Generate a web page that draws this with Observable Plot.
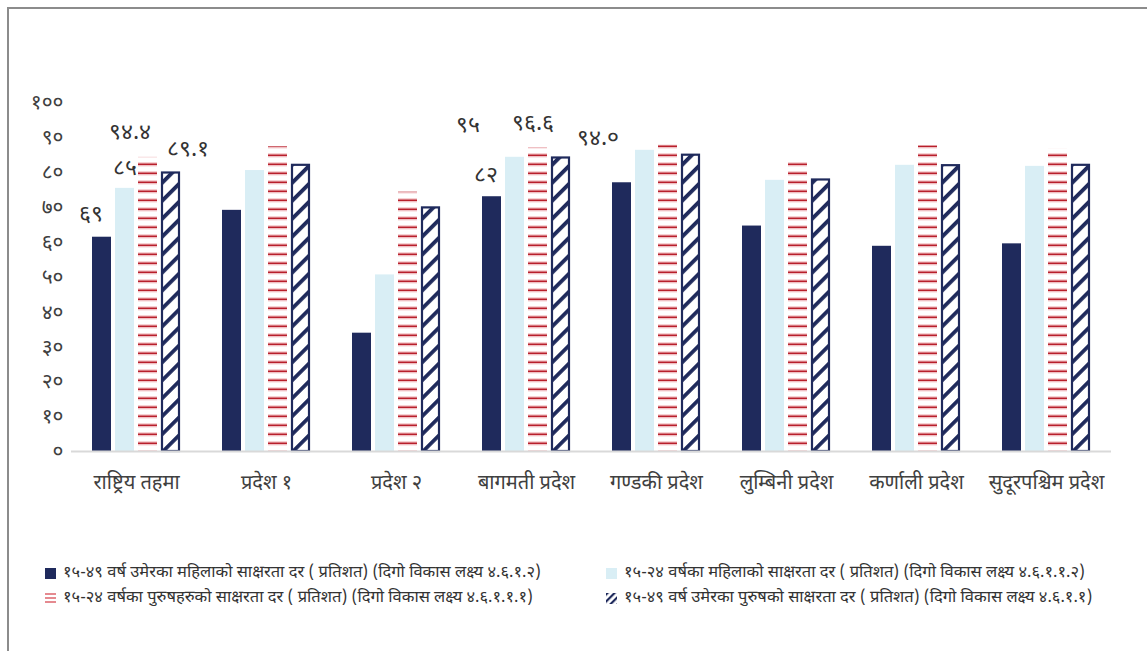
<!DOCTYPE html>
<html>
<head>
<meta charset="utf-8">
<script src="https://cdn.jsdelivr.net/npm/d3@7"></script>
<script src="https://cdn.jsdelivr.net/npm/@observablehq/plot@0.6"></script>
<style>
  html, body { margin: 0; padding: 0; background: #fff; }
  #wrap { position: relative; width: 1147px; height: 651px; overflow: hidden;
          font-family: "Noto Sans Devanagari", "Noto Sans", sans-serif; color: #333; }
  #frame { position: absolute; left: 7px; top: 7px; right: -10px; bottom: -10px;
           border-top: 2px solid #8c8c8c; border-left: 2px solid #8c8c8c; }
  #chart { position: absolute; left: 0; top: 0; }
  .lg { position: absolute; display: flex; align-items: center; font-size: 16.5px; white-space: nowrap; }
  .lg svg { margin-right: 7px; }
</style>
</head>
<body>
<div id="wrap">
  <div id="frame"></div>
  <div id="chart"></div>
  <div id="legend"></div>
</div>
<script>
// ---------- data ----------
const categories = ["राष्ट्रिय तहमा", "प्रदेश १", "प्रदेश २", "बागमती प्रदेश", "गण्डकी प्रदेश", "लुम्बिनी प्रदेश", "कर्णाली प्रदेश", "सुदूरपश्चिम प्रदेश"];
const seriesKeys = ["w1549", "w1524", "m1524", "m1549"];
const seriesNames = [
  "१५-४९ वर्ष उमेरका महिलाको साक्षरता दर ( प्रतिशत) (दिगो विकास लक्ष्य ४.६.१.२)",
  "१५-२४ वर्षका महिलाको साक्षरता दर ( प्रतिशत) (दिगो विकास लक्ष्य ४.६.१.१.२)",
  "१५-२४ वर्षका पुरुषहरुको साक्षरता दर ( प्रतिशत) (दिगो विकास लक्ष्य ४.६.१.१.१)",
  "१५-४९ वर्ष उमेरका पुरुषको साक्षरता दर ( प्रतिशत) (दिगो विकास लक्ष्य ४.६.१.१)"
];
const women1549 = [61.4, 69.1, 33.9, 73.0, 77.0, 64.6, 58.8, 59.5];
const women1524 = [75.4, 80.5, 50.6, 84.3, 86.3, 77.7, 82.0, 81.7];
const men1524   = [84.3, 87.3, 74.3, 87.1, 87.8, 83.6, 87.6, 86.6];
const men1549   = [79.8, 82.0, 69.8, 84.1, 84.9, 77.8, 81.9, 82.0];
const seriesValues = [women1549, women1524, men1524, men1549];

const tickValues = [0, 10, 20, 30, 40, 50, 60, 70, 80, 90, 100];
const tickLabels = ["०", "१०", "२०", "३०", "४०", "५०", "६०", "७०", "८०", "९०", "१००"];

// data labels shown on the chart
const labelCategory = ["राष्ट्रिय तहमा", "राष्ट्रिय तहमा", "राष्ट्रिय तहमा", "राष्ट्रिय तहमा", "बागमती प्रदेश", "बागमती प्रदेश", "बागमती प्रदेश", "बागमती प्रदेश"];
const labelSeries = ["w1549", "w1524", "m1524", "m1549", "w1549", "w1524", "m1524", "m1549"];
const labelText = ["६९", "८५", "९४.४", "८९.१", "८२", "९५", "९६.६", "९४.०"];

// ---------- build table ----------
const rows = categories.flatMap((c, i) => seriesKeys.map((s, j) => ({category: c, series: s, value: seriesValues[j][i]})));
const labels = labelText.map((t, k) => {
  const ci = categories.indexOf(labelCategory[k]);
  const si = seriesKeys.indexOf(labelSeries[k]);
  return {category: labelCategory[k], series: labelSeries[k], value: seriesValues[si][ci], text: t};
});

// ---------- styles ----------
const NAVY = "#1f2a5c";
const LIGHT = "#d9eef5";
const fills = {w1549: NAVY, w1524: LIGHT, m1524: "url(#redStripes)", m1549: "url(#navyHatch)"};
// label nudges (pixels), same order as labels
const nudge = [[-11, -24], [0, -21], [-18, -26], [17, -24], [-6, -22], [-47, -33], [-5, -25], [37, -20]];

const barMarks = seriesKeys.map(k => Plot.barY(rows.filter(d => d.series === k), {
  fx: "category", x: "series", y: "value",
  fill: fills[k],
  stroke: k === "m1549" ? NAVY : "none",
  strokeWidth: k === "m1549" ? 2.2 : 0,
  insetLeft: k === "m1549" ? 1 : 0, insetRight: k === "m1549" ? 1 : 0
}));

const labelMarks = labels.map((l, k) => Plot.text([l], {
  fx: "category", x: "series", y: "value", text: "text",
  dx: nudge[k][0], dy: nudge[k][1], fontSize: 23, fill: "#333"
}));

const chart = Plot.plot({
  width: 1147, height: 520,
  marginTop: 102, marginBottom: 69, marginLeft: 70, marginRight: 35,
  style: {fontFamily: '"Noto Sans Devanagari", "Noto Sans", sans-serif', background: "transparent", color: "#404040", overflow: "visible"},
  fx: {domain: categories, padding: 0, label: null},
  x: {domain: seriesKeys, paddingInner: 0.19, paddingOuter: 0.87, axis: null},
  y: {domain: [0, 100], axis: null},
  marks: [
    Plot.axisY({ticks: tickValues, tickFormat: d => tickLabels[tickValues.indexOf(d)], tickSize: 0, tickPadding: 8, fontSize: 21, label: null}),
    Plot.axisFx({anchor: "bottom", tickSize: 0, tickPadding: 23, fontSize: 20, label: null}),
    ...barMarks,
    Plot.ruleY([0], {stroke: "#d9d9d9", strokeWidth: 2}),
    ...labelMarks
  ]
});

// patterns
const defs = d3.select(chart).insert("defs", ":first-child");
const rp = defs.append("pattern").attr("id", "redStripes").attr("patternUnits", "userSpaceOnUse").attr("width", 20).attr("height", 9);
rp.append("rect").attr("width", 20).attr("height", 9).attr("fill", "#fff");
rp.append("rect").attr("y", 0).attr("width", 20).attr("height", 4.5).attr("fill", "#f6d2d4");
rp.append("rect").attr("y", 1.5).attr("width", 20).attr("height", 1.6).attr("fill", "#b81f2b");
const hp = defs.append("pattern").attr("id", "navyHatch").attr("patternUnits", "userSpaceOnUse")
  .attr("width", 12.7).attr("height", 12.7).attr("patternTransform", "rotate(45)");
hp.append("rect").attr("width", 12.7).attr("height", 12.7).attr("fill", "#fff");
hp.append("rect").attr("x", 0).attr("width", 3.8).attr("height", 12.7).attr("fill", NAVY);
// legend patterns
const rp2 = defs.append("pattern").attr("id", "redStripesSm").attr("patternUnits", "userSpaceOnUse").attr("width", 12).attr("height", 4);
rp2.append("rect").attr("width", 12).attr("height", 4).attr("fill", "#fff");
rp2.append("rect").attr("y", 0).attr("width", 12).attr("height", 2).attr("fill", "#e58a90");
const hp2 = defs.append("pattern").attr("id", "navyHatchSm").attr("patternUnits", "userSpaceOnUse")
  .attr("width", 5).attr("height", 5).attr("patternTransform", "rotate(45)");
hp2.append("rect").attr("width", 5).attr("height", 5).attr("fill", "#fff");
hp2.append("rect").attr("width", 2.2).attr("height", 5).attr("fill", NAVY);

document.getElementById("chart").appendChild(chart);

// ---------- legend ----------
const legendFills = [NAVY, LIGHT, "url(#redStripesSm)", "url(#navyHatchSm)"];
const legendPos = [[45, 573], [606, 573], [45, 598], [606, 598]];
const legend = document.getElementById("legend");
seriesNames.forEach((name, i) => {
  const div = document.createElement("div");
  div.className = "lg";
  div.style.left = legendPos[i][0] + "px";
  div.style.top = (legendPos[i][1] - 12) + "px";
  div.style.height = "24px";
  div.innerHTML = `<svg width="11" height="11"><rect width="11" height="11" fill="${legendFills[i]}"></rect></svg><span>${name}</span>`;
  legend.appendChild(div);
});
</script>
</body>
</html>
